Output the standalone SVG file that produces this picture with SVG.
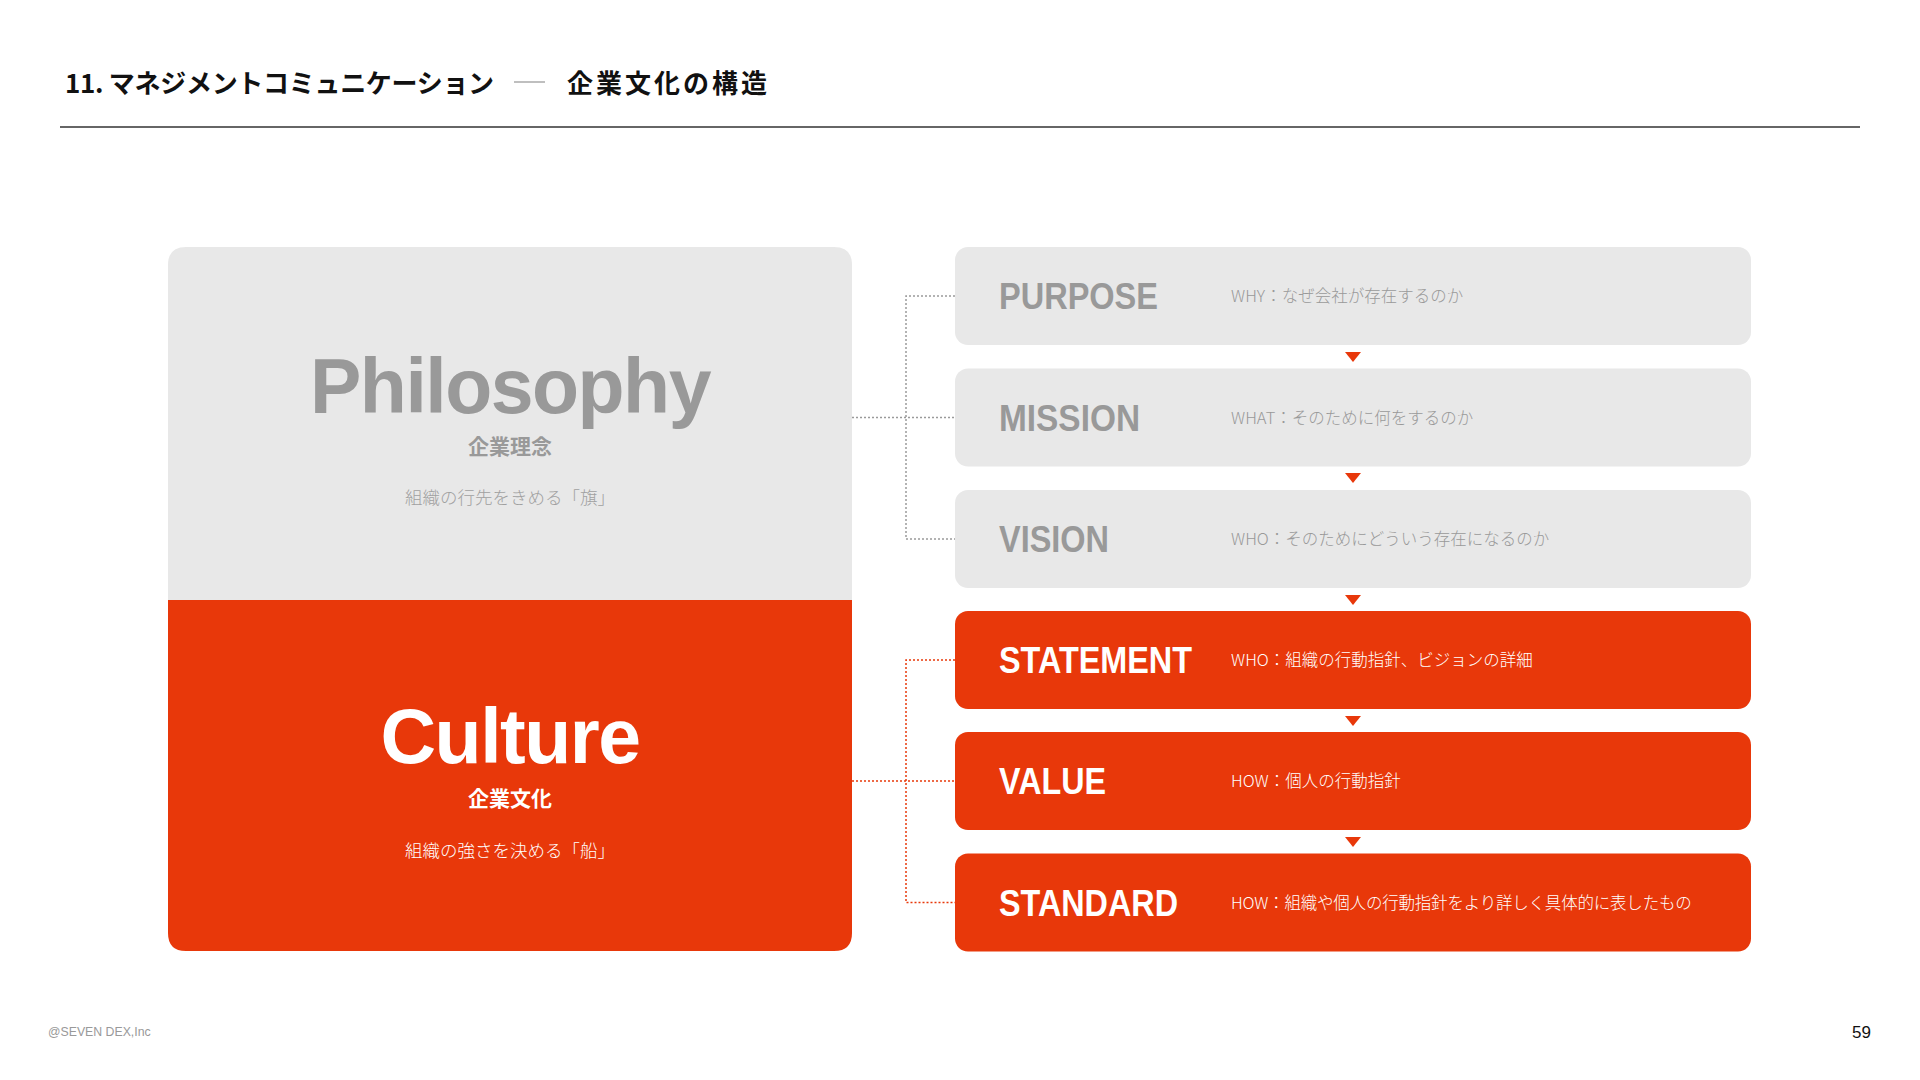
<svg xmlns="http://www.w3.org/2000/svg" width="1920" height="1080" viewBox="0 0 1920 1080">
<style>
.jp{font-family:"Noto Sans CJK JP","Noto Sans",sans-serif}
.en{font-family:"Liberation Sans",Arial,sans-serif;font-weight:bold}
.lbl{font-family:"Liberation Sans",Arial,sans-serif;font-weight:bold;font-size:36px}
.desc{font-family:"Noto Sans CJK JP",sans-serif;font-size:16.5px;font-weight:300}
.g{fill:#999999}
.w{fill:#ffffff}
.boxg{fill:#e8e8e8}
.boxo{fill:#e8380a}
.cg{stroke:#9a9a9a;stroke-width:1.5;stroke-dasharray:2 2;fill:none}
.co{stroke:#e8380a;stroke-width:1.5;stroke-dasharray:2 2;fill:none}
.arr{fill:#e8380a}
</style>
<rect width="1920" height="1080" fill="#ffffff"/>
<g id="header">
<text x="65" y="93" class="jp" font-size="26" font-weight="bold" fill="#111" letter-spacing="-0.3">11. マネジメントコミュニケーション</text>
<line x1="514" y1="82" x2="545" y2="82" stroke="#aaaaaa" stroke-width="1.5"/>
<text x="567" y="93" class="jp" font-size="26" font-weight="bold" fill="#111" letter-spacing="3">企業文化の構造</text>
<line x1="60" y1="127" x2="1860" y2="127" stroke="#333" stroke-width="1.5"/>
</g>
<g id="connectors">
<line x1="852" y1="417.5" x2="955" y2="417.5" class="cg"/>
<polyline points="955,296 906,296 906,539 955,539" class="cg"/>
<line x1="852" y1="781" x2="955" y2="781" class="co"/>
<polyline points="955,660 906,660 906,902.5 955,902.5" class="co"/>
<polygon class="arr" points="1345,352 1361,352 1353,362"/>
<polygon class="arr" points="1345,473 1361,473 1353,483"/>
<polygon class="arr" points="1345,595 1361,595 1353,605"/>
<polygon class="arr" points="1345,716 1361,716 1353,726"/>
<polygon class="arr" points="1345,837 1361,837 1353,847"/>
</g>
<g id="philosophy">
<path class="boxg" d="M168,600 V265 Q168,247 186,247 H834 Q852,247 852,265 V600 Z"/>
<text x="510" y="413" class="en g" font-size="77" letter-spacing="-1.5" text-anchor="middle">Philosophy</text>
<text x="510" y="454" class="jp g" font-size="21" font-weight="bold" text-anchor="middle">企業理念</text>
<text x="510" y="504" class="jp" font-size="17.5" font-weight="300" fill="#a0a0a0" text-anchor="middle">組織の行先をきめる「旗」</text>
</g>
<g id="culture">
<path class="boxo" d="M168,600 H852 V933 Q852,951 834,951 H186 Q168,951 168,933 Z"/>
<text x="510" y="763" class="en w" font-size="77" letter-spacing="-1.5" text-anchor="middle">Culture</text>
<text x="510" y="806" class="jp w" font-size="21" font-weight="bold" text-anchor="middle">企業文化</text>
<text x="510" y="857" class="jp w" font-size="17.5" font-weight="300" text-anchor="middle">組織の強さを決める「船」</text>
</g>
<g id="purpose">
<rect x="955" y="247" width="796" height="98" rx="13" class="boxg"/>
<text x="999" y="309" class="lbl g" textLength="159" lengthAdjust="spacingAndGlyphs">PURPOSE</text>
<text x="1231" y="302" class="desc g">WHY：なぜ会社が存在するのか</text>
</g>
<g id="mission">
<rect x="955" y="368.5" width="796" height="98" rx="13" class="boxg"/>
<text x="999" y="430.5" class="lbl g" textLength="141" lengthAdjust="spacingAndGlyphs">MISSION</text>
<text x="1231" y="423.5" class="desc g">WHAT：そのために何をするのか</text>
</g>
<g id="vision">
<rect x="955" y="490" width="796" height="98" rx="13" class="boxg"/>
<text x="999" y="552" class="lbl g" textLength="110" lengthAdjust="spacingAndGlyphs">VISION</text>
<text x="1231" y="545" class="desc g">WHO：そのためにどういう存在になるのか</text>
</g>
<g id="statement">
<rect x="955" y="611" width="796" height="98" rx="13" class="boxo"/>
<text x="999" y="673" class="lbl w" textLength="193" lengthAdjust="spacingAndGlyphs">STATEMENT</text>
<text x="1231" y="666" class="desc w">WHO：組織の行動指針、ビジョンの詳細</text>
</g>
<g id="value">
<rect x="955" y="732" width="796" height="98" rx="13" class="boxo"/>
<text x="999" y="794" class="lbl w" textLength="107" lengthAdjust="spacingAndGlyphs">VALUE</text>
<text x="1231" y="787" class="desc w">HOW：個人の行動指針</text>
</g>
<g id="standard">
<rect x="955" y="853.5" width="796" height="98" rx="13" class="boxo"/>
<text x="999" y="915.5" class="lbl w" textLength="179" lengthAdjust="spacingAndGlyphs">STANDARD</text>
<text x="1231" y="908.5" class="desc w" letter-spacing="-0.2">HOW：組織や個人の行動指針をより詳しく具体的に表したもの</text>
</g>
<g id="footer">
<text x="48" y="1036" font-family="Liberation Sans, Arial, sans-serif" font-size="12.3" fill="#999999">@SEVEN DEX,Inc</text>
<text x="1871" y="1038" font-family="Liberation Sans, Arial, sans-serif" font-size="17" fill="#111" text-anchor="end">59</text>
</g>
</svg>
